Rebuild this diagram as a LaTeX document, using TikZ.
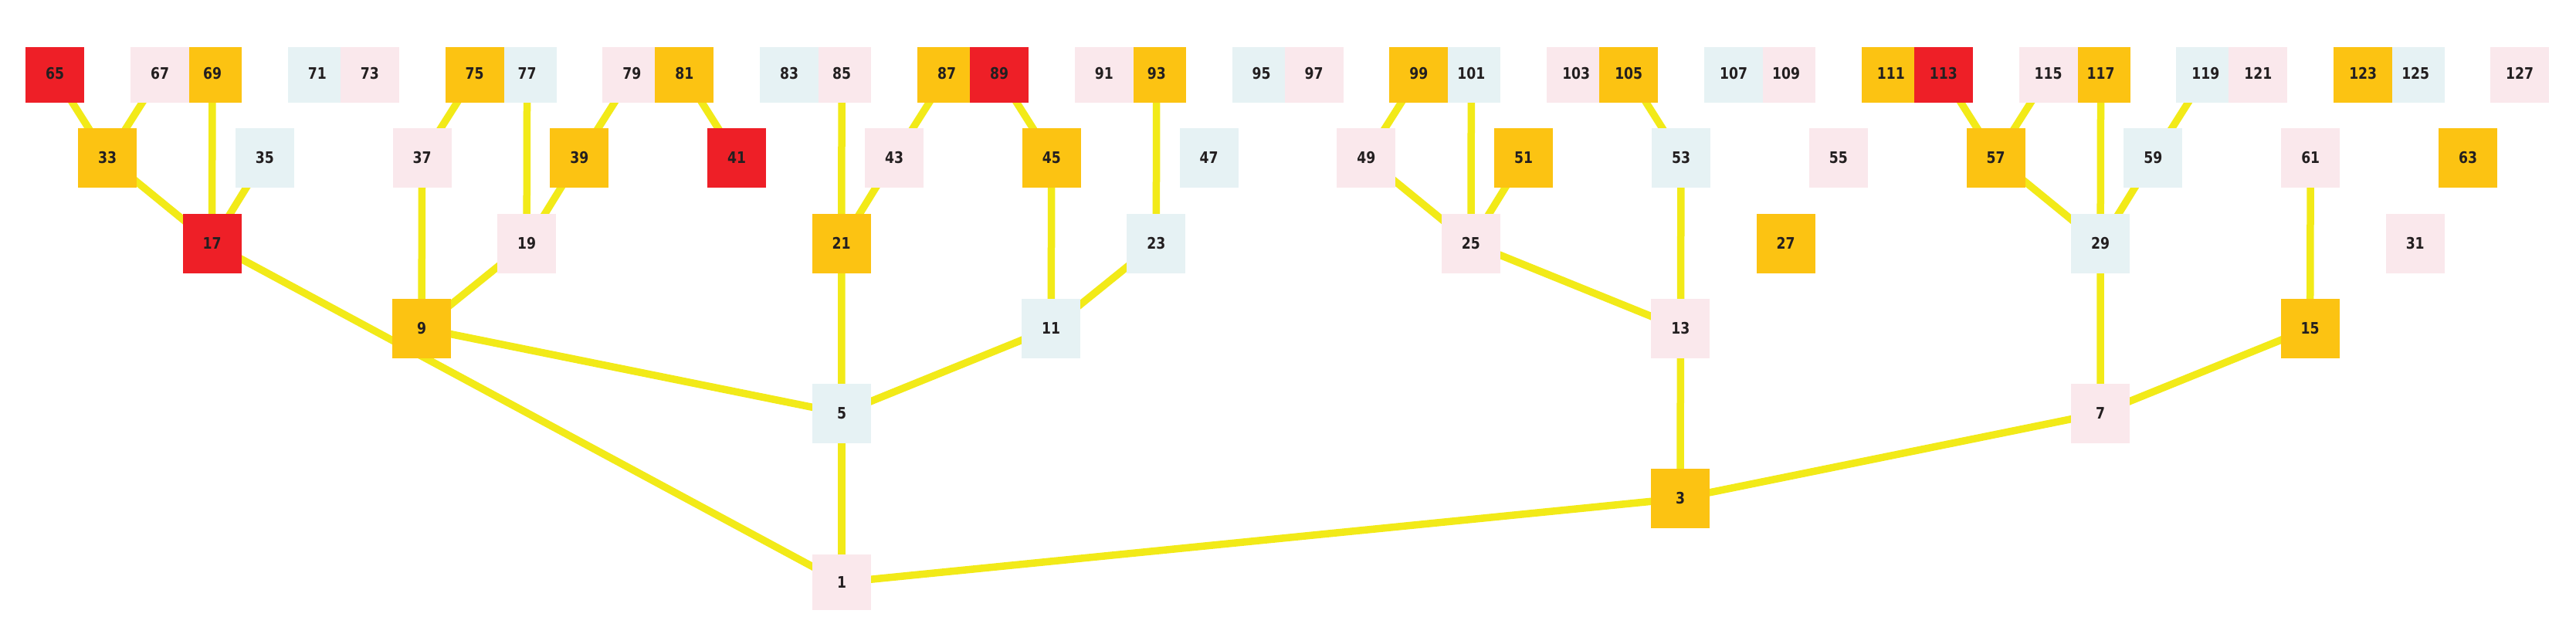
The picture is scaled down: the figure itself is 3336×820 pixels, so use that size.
\documentclass[tikz,border=0pt]{standalone}
\usepackage{fontspec}
\usepackage{graphicx}
\setmainfont{DejaVu Sans}
\definecolor{cred}{RGB}{238,31,39}
\definecolor{corange}{RGB}{252,195,18}
\definecolor{cpink}{RGB}{250,232,236}
\definecolor{cblue}{RGB}{230,242,244}
\definecolor{cedge}{RGB}{242,234,24}
\definecolor{ctext}{RGB}{35,31,32}
\pgfdeclarelayer{bg}
\pgfdeclarelayer{edges}
\pgfsetlayers{bg,edges,main}
\tikzset{
  box/.style={rectangle, inner sep=0pt, minimum width=76pt, minimum height=77pt,
    text=ctext, font=\fontsize{20.5}{22}\selectfont\bfseries},
  link/.style={draw=cedge, line width=9.5pt},
}
\newcommand{\mknode}[5]{%
  \pgfmathtruncatemacro{\cmod}{mod(#1,3)}%
  \pgfmathtruncatemacro{\cmodr}{mod(#1,24)}%
  \ifnum\cmodr=17 \def\fc{cred}\else\ifcase\cmod\relax\def\fc{corange}\or\def\fc{cpink}\or\def\fc{cblue}\fi\fi
  \node[box, fill=\fc, minimum height=#4pt] (n#1) at (#2,#3) {\raisebox{#5pt}{\scalebox{0.84}[1]{#1}}};%
}
\begin{document}
\begin{tikzpicture}[x=1pt,y=-1pt]
\begin{pgfonlayer}{bg}
  \fill[white] (0,0) rectangle (3336,820);
\end{pgfonlayer}
\useasboundingbox (0,0) rectangle (3336,820);
% row 7 and 6
\mknode{1}{1090}{754}{72}{0}
\mknode{3}{2176}{645.5}{77}{0}
% row 5
\mknode{5}{1090}{535}{77}{0}
\mknode{7}{2720}{535}{77}{0}
% row 4
\foreach \k in {0,...,3}{
  \pgfmathtruncatemacro\nn{9+2*\k}
  \pgfmathsetmacro\xx{546+815.2*\k}
  \mknode{\nn}{\xx}{425}{77}{0}
}
% row 3
\foreach \k in {0,...,7}{
  \pgfmathtruncatemacro\nn{17+2*\k}
  \pgfmathsetmacro\xx{274.5+407.6*\k}
  \mknode{\nn}{\xx}{315}{77}{0}
}
% row 2
\foreach \k in {0,...,15}{
  \pgfmathtruncatemacro\nn{33+2*\k}
  \pgfmathsetmacro\xx{139+203.8*\k}
  \mknode{\nn}{\xx}{204.3}{77}{0}
}
% row 1
\mknode{65}{71}{97}{72}{4}
\mknode{127}{3263}{97}{72}{4}
\foreach \k in {0,...,14}{
  \pgfmathsetmacro\cc{241+203.8*\k}
  \pgfmathtruncatemacro\nl{67+4*\k}
  \pgfmathtruncatemacro\nr{69+4*\k}
  \pgfmathsetmacro\xl{\cc-34}
  \pgfmathsetmacro\xr{\cc+34}
  \ifodd\k\relax \mknode{\nl}{\xl}{97}{72}{4}\else \mknode{\nr}{\xr}{97}{72}{4}\fi
}
\foreach \k in {0,...,14}{
  \pgfmathsetmacro\cc{241+203.8*\k}
  \pgfmathtruncatemacro\nl{67+4*\k}
  \pgfmathtruncatemacro\nr{69+4*\k}
  \pgfmathsetmacro\xl{\cc-34}
  \pgfmathsetmacro\xr{\cc+34}
  \ifodd\k\relax \mknode{\nr}{\xr}{97}{72}{4}\else \mknode{\nl}{\xl}{97}{72}{4}\fi
}
\begin{pgfonlayer}{edges}
\foreach \a/\b in {65/33, 67/33, 33/17, 69/17, 35/17, 17/1, 75/37, 37/9, 77/19,
  79/39, 39/19, 19/9, 9/5, 81/41, 85/21, 87/43, 43/21, 89/45, 45/11, 93/23,
  23/11, 11/5, 21/5, 5/1, 99/49, 49/25, 101/25, 51/25, 25/13, 105/53, 53/13,
  13/3, 3/1, 3/7, 113/57, 115/57, 57/29, 117/29, 119/59, 59/29, 29/7, 7/15, 61/15}
  \draw[link] (n\a.center) -- (n\b.center);
\end{pgfonlayer}
\end{tikzpicture}
\end{document}
